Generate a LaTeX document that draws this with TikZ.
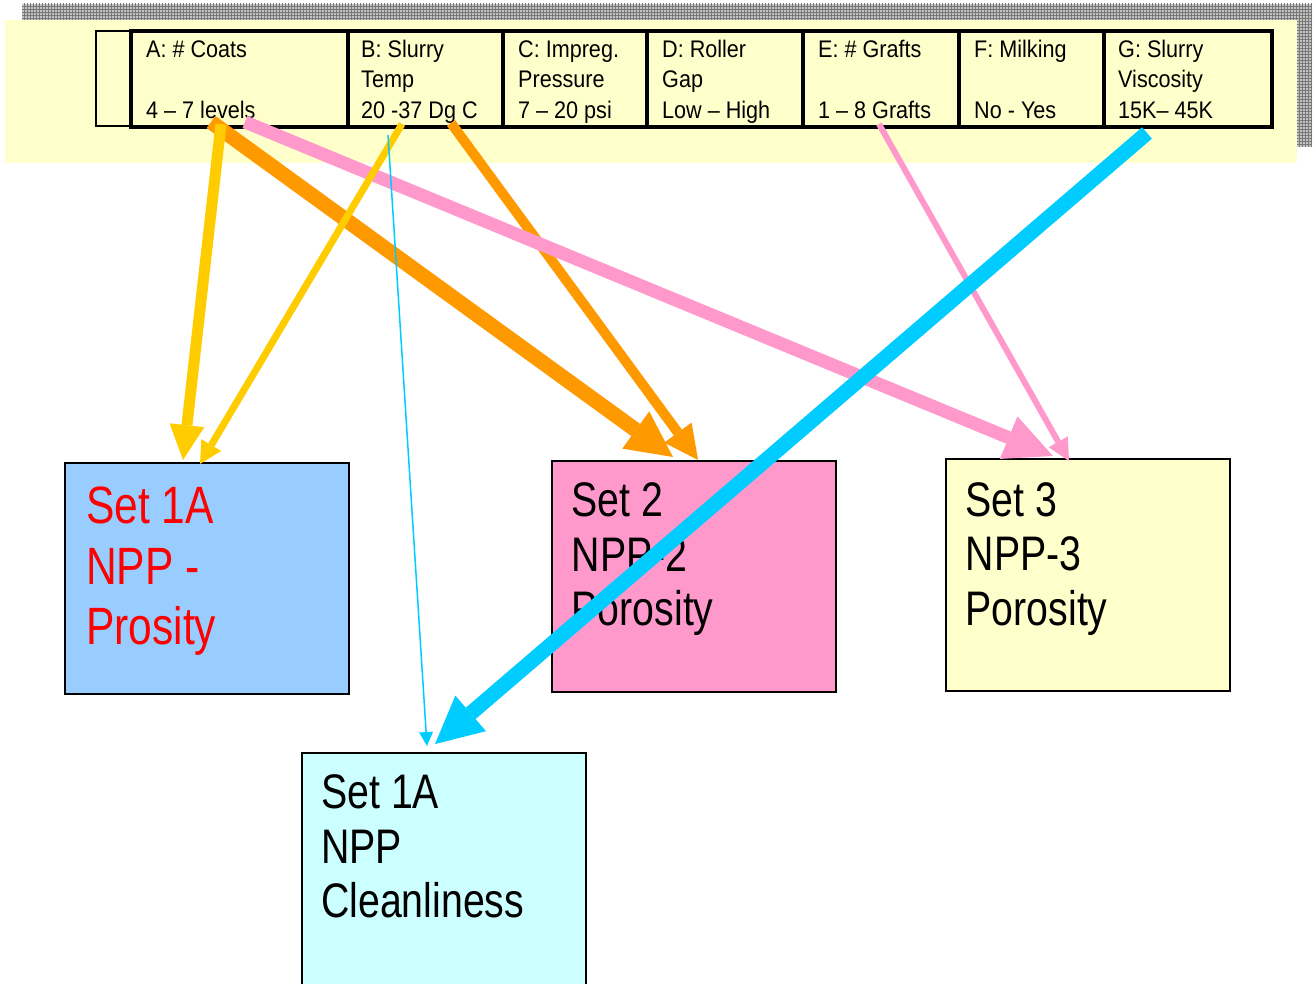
\documentclass[tikz,border=0pt]{standalone}
\usepackage{fontspec}
\setmainfont{Liberation Sans}
\newfontfamily\tabfont{Liberation Sans}[FakeStretch=0.9]
\newfontfamily\boxfont{Liberation Sans}[FakeStretch=0.81]
\usetikzlibrary{arrows.meta,patterns}
\definecolor{bgyellow}{HTML}{FFFFCC}
\definecolor{boxblue}{HTML}{99CCFF}
\definecolor{boxpink}{HTML}{FF99CC}
\definecolor{boxcyan}{HTML}{CCFFFF}
\definecolor{arryellow}{HTML}{FFCC00}
\definecolor{arrorange}{HTML}{FF9900}
\definecolor{arrpink}{HTML}{FF99CC}
\definecolor{arrcyan}{HTML}{00CCFF}
\definecolor{shadowgray}{RGB}{196,196,196}
\definecolor{shadowline}{RGB}{120,120,120}
\definecolor{redtext}{HTML}{FF0000}
\begin{document}
\begin{tikzpicture}[x=1pt,y=-1pt,
  cell/.style={draw=black,line width=4pt,inner sep=0pt,outer sep=0pt,anchor=north west,minimum height=96pt},
  tline/.style={anchor=base west,inner sep=0pt,font=\tabfont\fontsize{24}{28}\selectfont},
  setbox/.style={draw=black,line width=1.5pt,inner sep=0pt,outer sep=0pt,anchor=north west,minimum width=284pt,minimum height=231pt},
  bline/.style={anchor=base west,inner sep=0pt,font=\boxfont\fontsize{48.5}{56}\selectfont},
  bbline/.style={anchor=base west,inner sep=0pt,text=redtext,font=\boxfont\fontsize{52.5}{60}\selectfont},
  tri/.style 2 args={-{Triangle[length=#1pt,width=#2pt,line width=0pt]}}
]
\useasboundingbox (0,0) rectangle (1316,984);
\fill[white] (0,0) rectangle (1316,984);
\clip (0,0) rectangle (1316,984);

% background band with shadow
\fill[shadowgray] (22,4) rectangle (1312,147);
\fill[pattern=grid,pattern color=shadowline] (22,4) rectangle (1312,147);
\fill[bgyellow] (5,20) rectangle (1297,163);

% table
\node[draw=black,line width=2.5pt,inner sep=0pt,outer sep=0pt,anchor=north west,minimum width=35pt,minimum height=95pt] (c0) at (96,31) {};
\node[cell,minimum width=217pt] (cA) at (131,31) {};
\node[cell,minimum width=155pt] (cB) at (348,31) {};
\node[cell,minimum width=144pt] (cC) at (503,31) {};
\node[cell,minimum width=156pt] (cD) at (647,31) {};
\node[cell,minimum width=156pt] (cE) at (803,31) {};
\node[cell,minimum width=145pt] (cF) at (959,31) {};
\node[cell,minimum width=168pt] (cG) at (1104,31) {};

\node[tline] (tA1) at (146,57.5) {A: \# Coats};
\node[tline] (tA3) at (146,118.5) {4 – 7 levels};
\node[tline] (tB1) at (361,57.5) {B: Slurry};
\node[tline] (tB2) at (361,88) {Temp};
\node[tline] (tB3) at (361,118.5) {20 -37 Dg C};
\node[tline] (tC1) at (518,57.5) {C: Impreg.};
\node[tline] (tC2) at (518,88) {Pressure};
\node[tline] (tC3) at (518,118.5) {7 – 20 psi};
\node[tline] (tD1) at (662,57.5) {D: Roller};
\node[tline] (tD2) at (662,88) {Gap};
\node[tline] (tD3) at (662,118.5) {Low – High};
\node[tline] (tE1) at (818,57.5) {E: \# Grafts};
\node[tline] (tE3) at (818,118.5) {1 – 8 Grafts};
\node[tline] (tF1) at (974,57.5) {F: Milking};
\node[tline] (tF3) at (974,118.5) {No - Yes};
\node[tline] (tG1) at (1118,57.5) {G: Slurry};
\node[tline] (tG2) at (1118,88) {Viscosity};
\node[tline] (tG3) at (1118,118.5) {15K– 45K};

% result boxes
\node[setbox,fill=boxblue] (s1) at (65,463) {};
\node[bbline] (s1a) at (86,523.5) {Set 1A};
\node[bbline] (s1b) at (86,584) {NPP -};
\node[bbline] (s1c) at (86,644.5) {Prosity};

\node[setbox,fill=boxpink] (s2) at (552,461) {};
\node[bline] (s2a) at (571.5,516.5) {Set 2};
\node[bline] (s2b) at (571.5,571) {NPP-2};
\node[bline] (s2c) at (571.5,625.5) {Porosity};

\node[setbox,fill=bgyellow,minimum height=232pt] (s3) at (946,459) {};
\node[bline] (s3a) at (965.5,516) {Set 3};
\node[bline] (s3b) at (965.5,570.5) {NPP-3};
\node[bline] (s3c) at (965.5,625) {Porosity};

\node[setbox,fill=boxcyan,minimum height=260pt] (s4) at (302,753) {};
\node[bline] (s4a) at (321,808.5) {Set 1A};
\node[bline] (s4b) at (321,863) {NPP};
\node[bline] (s4c) at (321,917) {Cleanliness};

% connector end points
\coordinate (oA) at (211,122);   \coordinate (oAe) at (673,457);
\coordinate (oB) at (451,123);   \coordinate (oBe) at (698,460);
\coordinate (pA) at (245,122);   \coordinate (pAe) at (1053,456);
\coordinate (pE) at (879,124);   \coordinate (pEe) at (1069,461);
\coordinate (yA) at (221,124);   \coordinate (yAe) at (183,460);
\coordinate (yB) at (402,124);   \coordinate (yBe) at (200,464);
\coordinate (cG0) at (1147,133); \coordinate (cGe) at (435,744);
\coordinate (cB0) at (388,135);  \coordinate (cBe) at (427,746);

% connectors
\draw[arrorange,line width=15pt,tri={46}{46}] (oA) -- (oAe);
\draw[arrorange,line width=10pt,tri={34}{34}] (oB) -- (oBe);
\draw[arrpink,line width=13pt,tri={48}{46}] (pA) -- (pAe);
\draw[arrpink,line width=6pt,tri={22}{22}] (pE) -- (pEe);
\draw[arryellow,line width=11pt,tri={35}{35}] (yA) -- (yAe);
\draw[arryellow,line width=7pt,tri={22}{23}] (yB) -- (yBe);
\draw[arrcyan,line width=15pt,tri={47}{47}] (cG0) -- (cGe);
\draw[arrcyan,line width=1.5pt,tri={14}{14}] (cB0) -- (cBe);
\end{tikzpicture}
\end{document}
